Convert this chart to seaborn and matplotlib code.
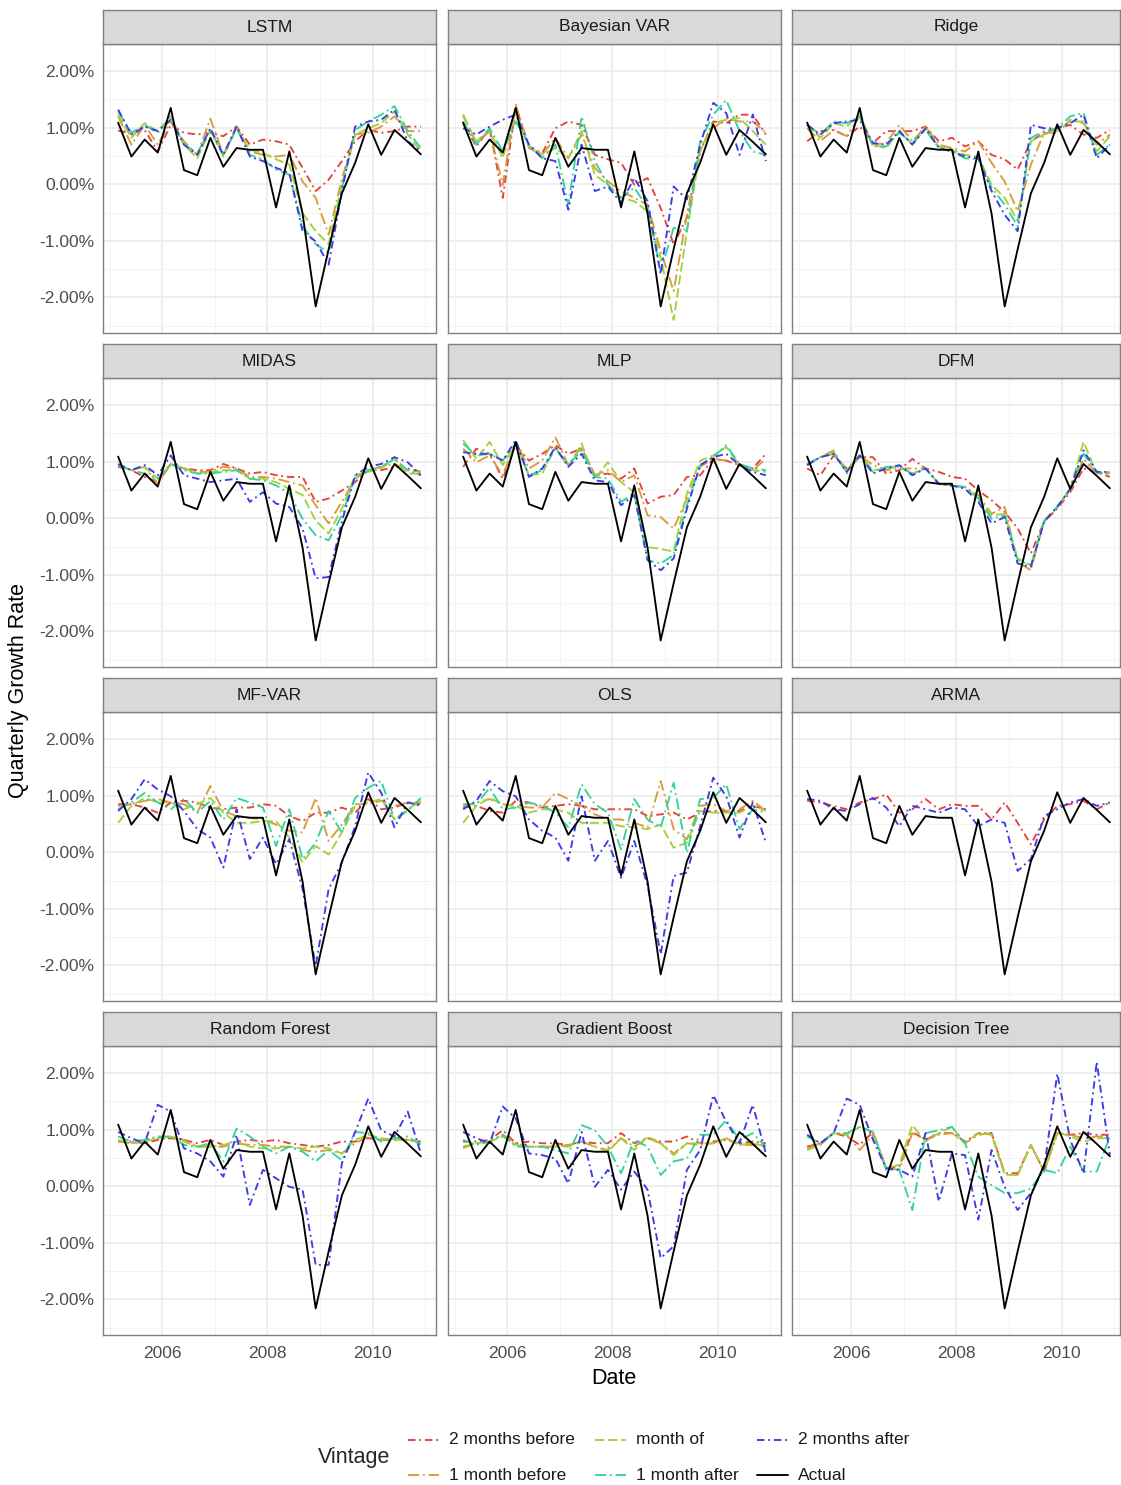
import numpy as np
import pandas as pd
import matplotlib
matplotlib.use("Agg")
import matplotlib.pyplot as plt
import matplotlib.dates as mdates
from matplotlib.ticker import FixedLocator, FuncFormatter
import seaborn as sns

# ---------------------------------------------------------------- data
dates = pd.date_range("2005-03-01", periods=24, freq="3MS")

actual = [1.09, 0.49, 0.79, 0.56, 1.35, 0.25, 0.16, 0.82, 0.31, 0.64, 0.61, 0.61,
          -0.41, 0.58, -0.52, -2.16, -1.15, -0.16, 0.38, 1.06, 0.52, 0.96, 0.75, 0.53]

vintages = ["2 months before", "1 month before", "month of", "1 month after", "2 months after"]
models = ["LSTM", "Bayesian VAR", "Ridge", "MIDAS", "MLP", "DFM",
          "MF-VAR", "OLS", "ARMA", "Random Forest", "Gradient Boost", "Decision Tree"]

lstm_2mb = [0.95, 0.89, 0.96, 0.58, 1.05, 0.91, 0.88, 0.91, 0.85, 1.02, 0.70, 0.79, 0.76, 0.70, 0.29, -0.12, 0.08, 0.41, 0.76, 0.96, 0.91, 0.94, 1.02, 1.02]
lstm_1mb = [1.20, 0.70, 1.05, 0.70, 1.11, 0.76, 0.52, 1.16, 0.52, 1.02, 0.58, 0.52, 0.49, 0.52, 0.05, -0.24, -0.89, 0.10, 0.88, 0.91, 1.02, 1.20, 0.94, 0.94]
lstm_mo = [1.23, 0.82, 1.08, 0.94, 1.20, 0.70, 0.46, 0.96, 0.49, 0.99, 0.61, 0.55, 0.44, 0.35, -0.51, -0.83, -1.06, -0.01, 0.88, 0.99, 1.08, 1.29, 0.88, 0.58]
lstm_1ma = [1.29, 0.91, 1.05, 0.91, 1.14, 0.70, 0.55, 0.96, 0.52, 0.99, 0.52, 0.44, 0.26, 0.17, -0.74, -1.06, -1.21, -0.06, 0.96, 1.11, 1.23, 1.38, 0.94, 0.64]
lstm_2ma = [1.32, 0.88, 1.02, 0.94, 1.14, 0.70, 0.52, 0.99, 0.52, 1.02, 0.49, 0.41, 0.29, 0.20, -0.83, -1.01, -1.42, -0.12, 1.02, 1.11, 1.14, 1.32, 0.76, 0.58]

bvar_2mb = [1.08, 0.67, 0.99, -0.24, 1.38, 0.67, 0.55, 0.99, 1.11, 1.05, 0.52, 0.44, 0.38, -0.01, 0.11, -0.42, -1.06, -0.59, 0.58, 1.11, 1.08, 1.23, 1.23, 0.88]
bvar_1mb = [1.23, 0.73, 0.94, -0.01, 1.41, 0.64, 0.52, 0.82, 0.46, 0.88, 0.29, 0.05, -0.12, -0.24, -0.36, -1.18, -1.89, -0.54, 0.64, 0.99, 1.17, 1.11, 1.11, 0.91]
bvar_mo = [1.20, 0.76, 0.96, 0.46, 1.29, 0.67, 0.52, 0.64, 0.46, 0.94, 0.17, -0.01, -0.24, -0.30, -0.48, -1.30, -2.40, -0.83, 0.58, 1.08, 1.14, 1.17, 0.94, 0.70]
bvar_1ma = [1.11, 0.70, 0.99, 0.58, 1.11, 0.70, 0.46, 0.70, -0.36, 1.20, 0.41, -0.01, -0.24, -0.06, -0.42, -1.54, -0.77, -0.83, 0.76, 1.23, 1.49, 0.94, 0.58, 0.52]
bvar_2ma = [0.99, 0.88, 1.02, 1.14, 1.23, 0.70, 0.46, 0.41, -0.45, 0.70, -0.12, -0.04, -0.33, 0.11, -0.30, -1.59, -0.04, -0.27, 0.70, 1.44, 1.26, 0.52, 1.23, 0.41]

ridge_2mb = [0.76, 0.94, 0.96, 0.85, 1.02, 0.73, 0.94, 0.94, 0.94, 1.02, 0.76, 0.82, 0.67, 0.76, 0.52, 0.44, 0.26, 0.76, 0.91, 0.99, 1.05, 0.88, 0.82, 0.96]
ridge_1mb = [0.99, 0.76, 0.96, 0.85, 1.20, 0.70, 0.73, 1.05, 0.76, 1.02, 0.70, 0.64, 0.58, 0.76, 0.38, 0.05, -0.48, 0.35, 0.91, 0.91, 1.14, 1.08, 0.70, 0.88]
ridge_mo = [1.05, 0.82, 1.08, 1.02, 1.23, 0.70, 0.64, 0.94, 0.70, 0.99, 0.67, 0.61, 0.52, 0.49, -0.01, -0.24, -0.65, 0.76, 0.88, 0.94, 1.11, 1.11, 0.58, 0.85]
ridge_1ma = [1.05, 0.88, 1.11, 1.08, 1.20, 0.67, 0.67, 0.91, 0.73, 0.96, 0.64, 0.58, 0.46, 0.44, -0.06, -0.36, -0.74, 0.82, 0.94, 0.99, 1.20, 1.26, 0.52, 0.70]
ridge_2ma = [1.05, 0.88, 1.08, 1.11, 1.14, 0.73, 0.70, 0.94, 0.70, 0.99, 0.64, 0.58, 0.49, 0.46, -0.12, -0.54, -0.83, 1.05, 0.99, 0.99, 1.08, 1.23, 0.46, 0.70]

midas_2mb = [0.91, 0.85, 0.73, 0.64, 0.96, 0.88, 0.85, 0.85, 0.96, 0.88, 0.79, 0.82, 0.76, 0.73, 0.73, 0.29, 0.35, 0.49, 0.64, 0.85, 0.85, 0.91, 0.88, 0.82]
midas_1mb = [0.94, 0.85, 0.91, 0.61, 0.96, 0.88, 0.82, 0.82, 0.91, 0.88, 0.73, 0.73, 0.70, 0.64, 0.58, 0.23, -0.09, 0.29, 0.70, 0.85, 0.91, 0.96, 0.85, 0.82]
midas_mo = [0.94, 0.85, 0.91, 0.70, 0.96, 0.88, 0.79, 0.82, 0.85, 0.85, 0.70, 0.70, 0.64, 0.52, 0.41, -0.04, -0.27, 0.17, 0.76, 0.82, 0.88, 1.05, 0.79, 0.79]
midas_1ma = [0.94, 0.85, 0.79, 0.70, 0.96, 0.85, 0.79, 0.79, 0.82, 0.85, 0.70, 0.67, 0.58, 0.44, -0.01, -0.30, -0.39, 0.05, 0.73, 0.85, 0.91, 1.05, 0.85, 0.76]
midas_2ma = [0.96, 0.85, 0.94, 0.76, 1.11, 0.76, 0.70, 0.64, 0.67, 0.70, 0.29, 0.46, 0.26, 0.20, -0.18, -1.06, -1.04, -0.06, 0.76, 0.91, 0.96, 1.08, 0.99, 0.76]

mlp_2mb = [0.91, 1.23, 1.14, 0.70, 1.29, 1.02, 1.14, 1.29, 1.14, 1.23, 0.76, 0.79, 0.70, 0.88, 0.26, 0.38, 0.41, 0.73, 0.76, 1.05, 1.02, 0.94, 0.88, 1.14]
mlp_1mb = [1.23, 0.99, 1.11, 0.76, 1.35, 0.88, 1.02, 1.43, 0.94, 1.26, 0.76, 0.85, 0.64, 0.76, 0.05, 0.02, -0.18, 0.35, 0.91, 1.05, 1.02, 0.94, 0.85, 1.05]
mlp_mo = [1.38, 1.05, 1.35, 0.94, 1.32, 0.76, 0.79, 1.26, 0.91, 1.32, 0.70, 0.99, 0.64, 0.46, -0.51, -0.54, -0.59, 0.44, 1.02, 1.11, 1.26, 0.94, 0.85, 0.82]
mlp_1ma = [1.32, 1.11, 1.14, 1.02, 1.32, 0.76, 0.85, 1.23, 0.94, 1.20, 0.73, 0.70, 0.29, 0.44, -0.74, -0.80, -0.65, 0.23, 0.94, 1.08, 1.29, 0.96, 0.88, 0.85]
mlp_2ma = [1.17, 1.14, 1.14, 1.02, 1.38, 0.73, 0.88, 1.26, 0.91, 1.14, 0.67, 0.64, 0.23, 0.41, -0.74, -0.92, -0.71, 0.17, 0.94, 1.08, 1.14, 0.94, 0.82, 0.76]

dfm_2mb = [0.88, 0.76, 1.11, 0.88, 1.08, 1.08, 0.79, 0.85, 1.05, 0.88, 0.82, 0.73, 0.70, 0.49, 0.32, 0.11, -0.18, -0.62, -0.06, 0.17, 0.46, 0.88, 0.82, 0.73]
dfm_1mb = [0.94, 1.08, 1.20, 0.79, 1.11, 0.94, 0.85, 0.88, 0.88, 0.88, 0.61, 0.58, 0.55, 0.41, 0.08, 0.20, -0.77, -0.92, -0.04, 0.20, 0.49, 1.05, 0.79, 0.82]
dfm_mo = [0.96, 1.08, 1.17, 0.85, 1.11, 0.85, 0.88, 0.91, 0.79, 0.88, 0.61, 0.58, 0.55, 0.35, 0.05, 0.08, -0.71, -0.83, -0.04, 0.20, 0.52, 1.35, 0.79, 0.79]
dfm_1ma = [0.96, 1.08, 1.14, 0.82, 1.11, 0.82, 0.91, 0.91, 0.79, 0.88, 0.61, 0.58, 0.55, 0.35, -0.01, 0.05, -0.74, -0.83, -0.06, 0.20, 0.52, 1.14, 0.82, 0.79]
dfm_2ma = [0.94, 1.08, 1.14, 0.82, 1.11, 0.79, 0.88, 0.94, 0.76, 0.88, 0.61, 0.58, 0.52, 0.29, -0.09, 0.02, -0.80, -0.86, -0.06, 0.20, 0.52, 1.20, 0.82, 0.82]

mfvar_2mb = [0.85, 0.85, 0.79, 0.70, 0.88, 0.91, 0.88, 0.79, 0.76, 0.79, 0.79, 0.85, 0.82, 0.64, 0.55, 0.70, 0.70, 0.79, 0.70, 0.94, 0.76, 0.79, 0.88, 0.85]
mfvar_1mb = [0.82, 0.85, 0.91, 0.94, 0.88, 0.85, 0.70, 1.17, 0.73, 0.64, 0.61, 0.58, 0.49, 0.38, 0.35, 0.96, 0.20, 0.49, 0.85, 0.85, 0.91, 0.82, 0.88, 0.88]
mfvar_mo = [0.52, 0.82, 0.96, 0.88, 0.88, 0.76, 0.85, 0.96, 0.70, 0.52, 0.52, 0.55, 0.55, 0.26, -0.18, 0.11, -0.04, 0.35, 0.82, 0.88, 0.94, 0.58, 0.76, 0.91]
mfvar_1ma = [0.76, 0.88, 1.05, 0.88, 0.76, 0.94, 0.70, 0.91, 0.58, 0.96, 0.88, 0.79, 0.11, 0.76, -0.12, 0.17, 0.73, 0.35, 0.96, 1.14, 1.26, 0.58, 0.73, 0.96]
mfvar_2ma = [0.73, 0.94, 1.29, 1.11, 0.99, 0.73, 0.41, 0.26, -0.27, 0.76, -0.12, 0.26, -0.21, 0.23, -0.65, -2.01, -0.65, -0.18, 0.46, 1.41, 1.05, 0.44, 0.88, 0.82]

ols_2mb = [0.79, 0.82, 0.73, 0.70, 0.91, 0.88, 0.79, 0.82, 0.85, 0.82, 0.76, 0.76, 0.76, 0.76, 0.64, 0.67, 0.70, 0.58, 0.70, 0.73, 0.73, 0.73, 0.82, 0.76]
ols_1mb = [0.82, 0.88, 0.94, 0.85, 0.82, 0.79, 0.79, 1.05, 0.94, 0.82, 0.67, 0.58, 0.58, 0.52, 0.44, 1.26, 0.41, 0.23, 0.82, 0.85, 0.73, 0.76, 0.91, 0.73]
ols_mo = [0.52, 0.82, 0.96, 0.85, 0.82, 0.70, 0.76, 0.76, 0.70, 0.52, 0.52, 0.52, 0.46, 0.44, 0.41, 0.49, 0.08, 0.17, 0.73, 0.70, 0.70, 0.70, 0.82, 0.73]
ols_1ma = [0.85, 0.85, 1.14, 0.76, 0.79, 0.88, 0.82, 0.70, 0.44, 1.20, 0.85, 0.70, 0.05, 0.94, 0.58, 0.44, 1.23, -0.01, 0.94, 0.96, 1.20, 0.41, 0.76, 0.70]
ols_2ma = [0.76, 0.91, 1.26, 1.08, 0.99, 0.58, 0.38, 0.26, -0.15, 0.99, -0.15, 0.20, -0.45, 0.20, -0.59, -1.80, -0.42, -0.36, 0.46, 1.32, 0.99, 0.26, 0.88, 0.17]

arma_2mb = [0.91, 0.88, 0.82, 0.76, 0.88, 0.94, 1.02, 0.70, 0.76, 0.94, 0.76, 0.85, 0.82, 0.82, 0.58, 0.88, 0.52, 0.14, 0.58, 0.82, 0.85, 0.91, 0.76, 0.88]
arma_2ma = [0.94, 0.91, 0.76, 0.73, 0.85, 0.96, 0.79, 0.46, 0.82, 0.76, 0.70, 0.79, 0.76, 0.46, 0.58, 0.52, -0.33, -0.12, 0.64, 0.76, 0.88, 0.94, 0.82, 0.88]

rf_2mb = [0.79, 0.79, 0.76, 0.82, 0.85, 0.82, 0.76, 0.82, 0.73, 0.79, 0.82, 0.79, 0.82, 0.76, 0.73, 0.70, 0.73, 0.79, 0.79, 0.85, 0.82, 0.82, 0.82, 0.79]
rf_1mb = [0.79, 0.76, 0.82, 0.85, 0.88, 0.82, 0.70, 0.70, 0.70, 0.76, 0.73, 0.73, 0.70, 0.70, 0.64, 0.61, 0.64, 0.58, 0.76, 0.88, 0.82, 0.85, 0.82, 0.76]
rf_mo = [0.82, 0.76, 0.79, 0.85, 0.88, 0.79, 0.70, 0.70, 0.73, 0.79, 0.70, 0.67, 0.67, 0.70, 0.67, 0.70, 0.67, 0.58, 0.82, 0.91, 0.85, 0.82, 0.82, 0.79]
rf_1ma = [0.88, 0.79, 0.82, 0.88, 0.88, 0.73, 0.70, 0.76, 0.44, 1.02, 0.88, 0.70, 0.58, 0.70, 0.61, 0.44, 0.64, 0.46, 0.96, 0.94, 0.79, 0.85, 0.88, 0.73]
rf_2ma = [0.96, 0.85, 0.76, 1.44, 1.32, 0.67, 0.58, 0.44, 0.17, 0.91, -0.33, 0.29, 0.14, -0.01, -0.06, -1.39, -1.39, 0.41, 0.96, 1.55, 0.99, 0.88, 1.32, 0.58]

gb_2mb = [0.79, 0.79, 0.82, 0.99, 0.76, 0.79, 0.76, 0.76, 0.73, 0.79, 0.76, 0.76, 0.94, 0.76, 0.85, 0.79, 0.79, 0.88, 0.76, 0.79, 0.82, 0.76, 0.79, 0.76]
gb_1mb = [0.70, 0.76, 0.79, 0.91, 0.76, 0.70, 0.70, 0.70, 0.73, 0.79, 0.70, 0.64, 0.85, 0.70, 0.85, 0.76, 0.58, 0.76, 0.73, 0.76, 0.85, 0.73, 0.73, 0.73]
gb_mo = [0.67, 0.76, 0.79, 0.88, 0.73, 0.70, 0.70, 0.70, 0.70, 0.79, 0.70, 0.61, 0.85, 0.64, 0.88, 0.76, 0.55, 0.76, 0.76, 0.76, 0.85, 0.73, 0.76, 0.70]
gb_1ma = [0.82, 0.73, 0.79, 0.91, 0.70, 0.70, 0.70, 0.64, 0.58, 1.08, 0.99, 0.70, 0.23, 0.82, 0.70, 0.20, 0.44, 0.49, 0.91, 0.91, 1.17, 0.82, 0.94, 0.70]
gb_2ma = [0.96, 0.85, 0.76, 1.41, 1.20, 0.58, 0.55, 0.49, 0.05, 0.96, -0.01, 0.29, -0.06, 0.26, -0.06, -1.27, -1.06, 0.29, 0.64, 1.61, 1.14, 0.76, 1.44, 0.58]

dt_2mb = [0.70, 0.76, 0.94, 0.88, 0.73, 0.96, 0.32, 0.35, 0.96, 0.82, 0.94, 0.94, 0.79, 0.94, 0.94, 0.23, 0.23, 0.73, 0.26, 0.94, 0.91, 0.94, 0.91, 0.91]
dt_1mb = [0.67, 0.76, 0.94, 0.91, 0.64, 0.91, 0.32, 0.29, 0.94, 0.82, 0.91, 0.94, 0.76, 0.91, 0.94, 0.23, 0.20, 0.73, 0.26, 0.94, 0.91, 0.85, 0.88, 0.88]
dt_mo = [0.64, 0.73, 0.94, 0.91, 1.05, 0.96, 0.32, 0.38, 1.08, 0.79, 0.94, 1.05, 0.76, 0.94, 0.91, 0.20, 0.20, 0.73, 0.26, 0.96, 0.88, 0.79, 0.85, 0.85]
dt_1ma = [0.88, 0.76, 0.94, 0.94, 1.05, 0.96, 0.29, 0.29, -0.42, 0.94, 0.99, 1.05, 0.76, 0.17, 0.02, -0.12, -0.12, -0.04, 0.29, 0.23, 0.70, 0.26, 0.26, 0.88]
dt_2ma = [0.91, 0.76, 0.94, 1.55, 1.44, 0.82, 0.32, 0.29, 0.17, 0.94, -0.27, 0.58, 0.55, -0.59, 0.64, -0.01, -0.42, -0.12, 0.32, 1.99, 0.82, 0.23, 2.20, 0.55]

nowcasts = {
    "LSTM": [lstm_2mb, lstm_1mb, lstm_mo, lstm_1ma, lstm_2ma],
    "Bayesian VAR": [bvar_2mb, bvar_1mb, bvar_mo, bvar_1ma, bvar_2ma],
    "Ridge": [ridge_2mb, ridge_1mb, ridge_mo, ridge_1ma, ridge_2ma],
    "MIDAS": [midas_2mb, midas_1mb, midas_mo, midas_1ma, midas_2ma],
    "MLP": [mlp_2mb, mlp_1mb, mlp_mo, mlp_1ma, mlp_2ma],
    "DFM": [dfm_2mb, dfm_1mb, dfm_mo, dfm_1ma, dfm_2ma],
    "MF-VAR": [mfvar_2mb, mfvar_1mb, mfvar_mo, mfvar_1ma, mfvar_2ma],
    "OLS": [ols_2mb, ols_1mb, ols_mo, ols_1ma, ols_2ma],
    "ARMA": [arma_2mb, None, None, None, arma_2ma],
    "Random Forest": [rf_2mb, rf_1mb, rf_mo, rf_1ma, rf_2ma],
    "Gradient Boost": [gb_2mb, gb_1mb, gb_mo, gb_1ma, gb_2ma],
    "Decision Tree": [dt_2mb, dt_1mb, dt_mo, dt_1ma, dt_2ma],
}

# ---------------------------------------------------------------- styles
levels = vintages + ["Actual"]
palette = {
    "2 months before": "#E8403A",
    "1 month before": "#D99A3A",
    "month of": "#A2D13A",
    "1 month after": "#33D49B",
    "2 months after": "#3B3BEA",
    "Actual": "#000000",
}
dash_map = {
    "2 months before": (4, 2, 1, 2),
    "1 month before": (6, 2, 1, 2),
    "month of": (5, 2),
    "1 month after": (6, 2, 1, 2),
    "2 months after": (4, 2, 1, 2),
    "Actual": "",
}
LW = 1.35

rows = []
for m in models:
    for v, vals in zip(vintages, nowcasts[m]):
        if vals is None:
            continue
        rows.append(pd.DataFrame({"model": m, "vintage": v, "date": dates, "value": vals}))
    rows.append(pd.DataFrame({"model": m, "vintage": "Actual", "date": dates, "value": actual}))
df = pd.concat(rows, ignore_index=True)

# ---------------------------------------------------------------- figure
W, H = 1121, 1485
sns.set_theme(style="white")
plt.rcParams["font.family"] = ["Liberation Sans", "DejaVu Sans"]
fig = plt.figure(figsize=(W / 100, H / 100), dpi=100)
fig.patch.set_facecolor("white")

col_left = [103, 448, 792]
col_width = [333, 333, 328]
row_top = [44, 378, 712, 1046]
panel_h = 289
strip_h = 34
border = "#808080"
grid_major = "#EBEBEB"
grid_minor = "#F3F3F3"

x0 = mdates.date2num(dates[0])
x1 = mdates.date2num(dates[-1])
pad = 0.05 * (x1 - x0)
xlo = x0 - pad
px_per_day = 333 / ((x1 + pad) - xlo)
ylim = (-2.63, 2.48)

major_x = [mdates.date2num(pd.Timestamp(f"{y}-01-01")) for y in (2006, 2008, 2010)]
minor_x = [mdates.date2num(pd.Timestamp(f"{y}-01-01")) for y in (2005, 2007, 2009, 2011)]

for i, m in enumerate(models):
    r, c = divmod(i, 3)
    left, width, top = col_left[c], col_width[c], row_top[r]
    ax = fig.add_axes([left / W, 1 - (top + panel_h) / H, width / W, panel_h / H])
    sub = df[df["model"] == m]
    hue_order = [lv for lv in levels if lv in set(sub["vintage"])]
    sns.lineplot(data=sub, x="date", y="value", hue="vintage", style="vintage",
                 hue_order=hue_order, style_order=hue_order,
                 palette=palette, dashes=dash_map, linewidth=LW,
                 legend=False, ax=ax, zorder=3)
    ax.set_xlim(xlo, xlo + width / px_per_day)
    ax.set_ylim(*ylim)
    ax.xaxis.set_major_locator(FixedLocator(major_x))
    ax.xaxis.set_minor_locator(FixedLocator(minor_x))
    ax.yaxis.set_major_locator(FixedLocator([-2, -1, 0, 1, 2]))
    ax.yaxis.set_minor_locator(FixedLocator([-2.5, -1.5, -0.5, 0.5, 1.5]))
    ax.grid(True, which="major", color=grid_major, linewidth=1.2, zorder=0)
    ax.grid(True, which="minor", color=grid_minor, linewidth=0.7, zorder=0)
    ax.set_axisbelow(True)
    for s in ax.spines.values():
        s.set_color(border)
        s.set_linewidth(1.0)
    ax.set_xlabel("")
    ax.set_ylabel("")
    ax.tick_params(which="major", length=3, width=0.8, color=border,
                   labelsize=12.5, labelcolor="#4D4D4D", pad=3)
    ax.tick_params(axis="x", which="major", pad=5)
    ax.tick_params(which="minor", length=0)
    if c == 0:
        ax.yaxis.set_major_formatter(FuncFormatter(lambda v, p: f"{v:.2f}%"))
    else:
        ax.set_yticklabels([])
    if r == 3:
        ax.xaxis.set_major_formatter(mdates.DateFormatter("%Y"))
    else:
        ax.set_xticklabels([])
    # facet strip
    sax = fig.add_axes([left / W, 1 - top / H, width / W, strip_h / H])
    sax.set_facecolor("#D9D9D9")
    sax.set_xticks([])
    sax.set_yticks([])
    for s in sax.spines.values():
        s.set_color(border)
        s.set_linewidth(1.0)
    sax.text(0.5, 0.5, m, ha="center", va="center", fontsize=12.5, color="#1A1A1A",
             transform=sax.transAxes)

# axis titles
fig.text(614 / W, 1 - 1378 / H, "Date", ha="center", va="center", fontsize=15.5, color="#000000")
fig.text(19 / W, 1 - 690 / H, "Quarterly Growth Rate", ha="center", va="center",
         rotation=90, fontsize=15.5, color="#000000")

# legend
lax = fig.add_axes([0, 0, 1, 1], zorder=5)
lax.set_xlim(0, W)
lax.set_ylim(H, 0)
lax.axis("off")
lax.text(318, 1457, "Vintage", ha="left", va="center", fontsize=15.5)
key_pos = {
    "2 months before": (408, 1440), "1 month before": (408, 1475),
    "month of": (595, 1440), "1 month after": (595, 1475),
    "2 months after": (757, 1440), "Actual": (757, 1475),
}
for lv, (kx, ky) in key_pos.items():
    d = dash_map[lv]
    ls = "-" if d == "" else (0, d)
    lax.plot([kx, kx + 31], [ky, ky], color=palette[lv], linestyle=ls, linewidth=LW)
    lax.text(kx + 41, ky, lv, ha="left", va="center", fontsize=12.5, color="#1A1A1A")

fig.savefig("out.png", dpi=100, facecolor="white")
